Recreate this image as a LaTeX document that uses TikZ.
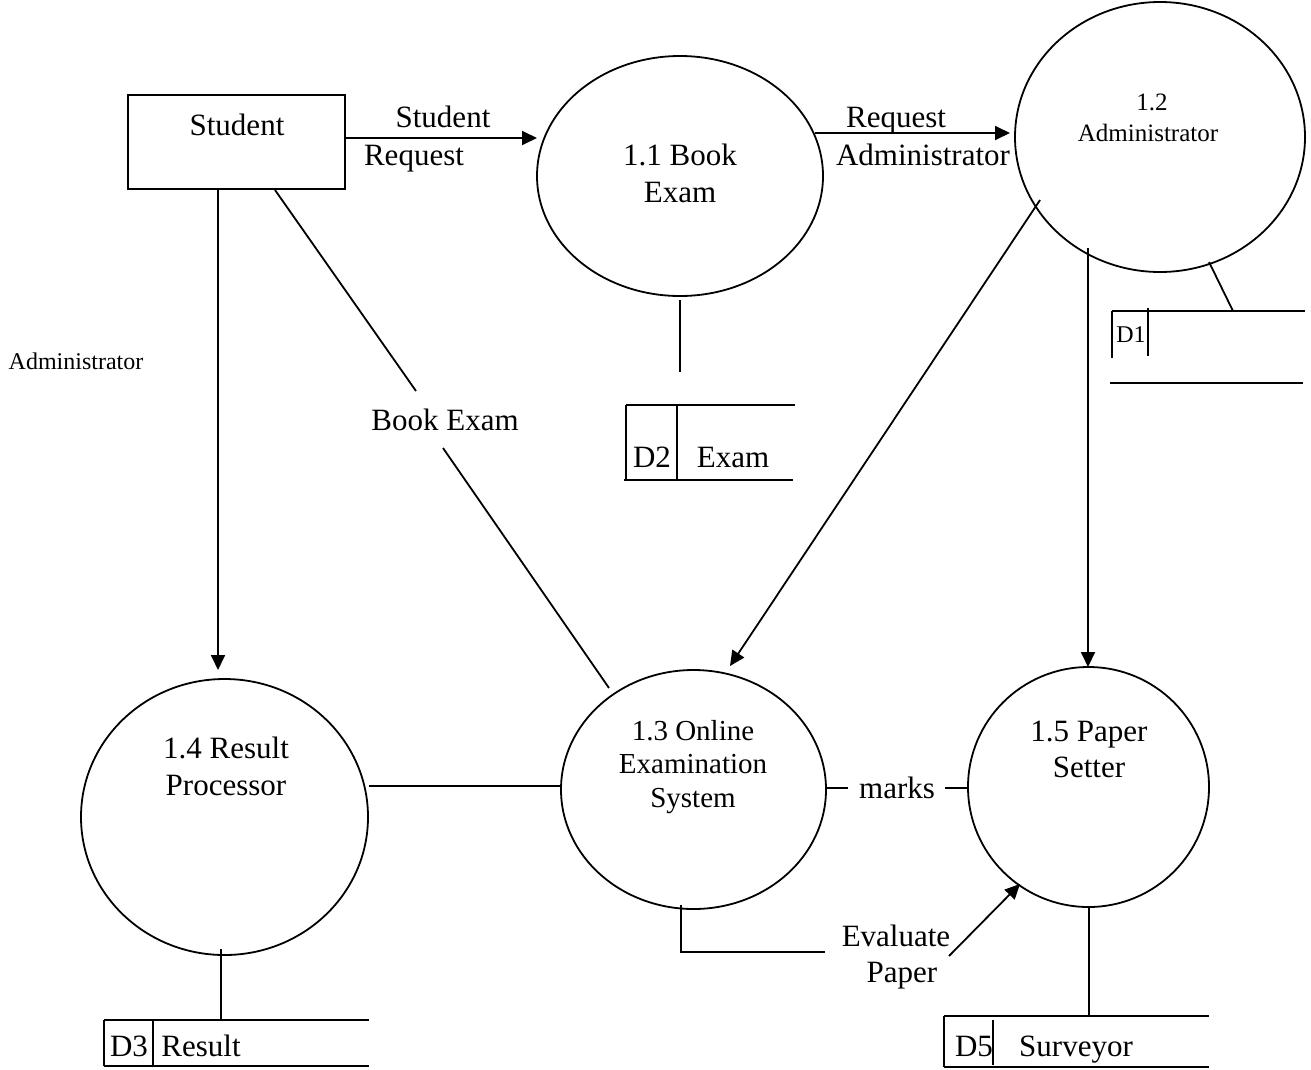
\documentclass[tikz,border=0pt]{standalone}
\usepackage{fontspec}
\setmainfont{Liberation Serif}
\usetikzlibrary{shapes.geometric,arrows.meta}
\newcommand\bigf{\fontsize{31}{37}\selectfont}
\newcommand\midf{\fontsize{29}{34}\selectfont}
\newcommand\smallf{\fontsize{25}{30}\selectfont}
\newcommand\tinyf{\fontsize{24}{29}\selectfont}
\tikzset{
  ln/.style={line width=1.8pt},
  arr/.style={ln,-{Triangle[length=15pt,width=14pt]}},
  proc/.style={ellipse,draw,line width=1.8pt,inner sep=0pt},
  ent/.style={rectangle,draw,line width=1.8pt,inner sep=0pt},
  txt/.style={inner sep=0pt,font=\bigf,text height=20pt,text depth=0pt},
  txtm/.style={inner sep=0pt,font=\midf,text height=19pt,text depth=0pt},
  txts/.style={inner sep=0pt,font=\smallf,text height=16pt,text depth=0pt},
  txtt/.style={inner sep=0pt,font=\tinyf,text height=16pt,text depth=0pt}
}
\begin{document}
\begin{tikzpicture}[x=1pt,y=-1pt]
\useasboundingbox[fill=white] (0,0) rectangle (1311,1069);
% entity
\node[ent,minimum width=217pt,minimum height=94pt] (student) at (236.5,142) {};
\node[txt] (studentT) at (237,125) {Student};
% processes
\node[proc,minimum width=286pt,minimum height=240pt] (p11) at (680,176) {};
\node[txt] (p11a) at (680,155) {1.1 Book};
\node[txt] (p11b) at (680,192) {Exam};
\node[proc,minimum width=290pt,minimum height=270pt] (p12) at (1160,137) {};
\node[txts] (p12a) at (1152,102) {1.2};
\node[txts] (p12b) at (1148,133) {Administrator};
\node[proc,minimum width=265pt,minimum height=239pt] (p13) at (693.5,789.5) {};
\node[txtm] (p13a) at (693,731) {1.3 Online};
\node[txtm] (p13b) at (693,764) {Examination};
\node[txtm] (p13c) at (693,798) {System};
\node[proc,minimum width=287pt,minimum height=276pt] (p14) at (224.5,817) {};
\node[txt] (p14a) at (226,748) {1.4 Result};
\node[txt] (p14b) at (226,785) {Processor};
\node[proc,minimum width=241pt,minimum height=240pt] (p15) at (1088.5,787) {};
\node[txt] (p15a) at (1089,731) {1.5 Paper};
\node[txt] (p15b) at (1089,767) {Setter};
% flow labels
\node[txt] (lSR1) at (443,117) {Student};
\node[txt] (lSR2) at (414,155) {Request};
\node[txt] (lRA1) at (896,117) {Request};
\node[txt] (lRA2) at (923,155) {Administrator};
\node[txtt] (lAdm) at (76,361) {Administrator};
\node[txt] (lBE) at (445,420) {Book Exam};
\node[txt] (lmarks) at (897,788) {marks};
\node[txt] (lEv1) at (896,936) {Evaluate};
\node[txt] (lEv2) at (902,972) {Paper};
% connector end points
\coordinate (c1s) at (345,138); \coordinate (c1e) at (537,138);
\coordinate (c2s) at (815,133); \coordinate (c2e) at (1010,133);
\coordinate (c3s) at (680,300); \coordinate (c3e) at (680,372);
\coordinate (c4s) at (1209,262); \coordinate (c4e) at (1233,311);
\coordinate (c5s) at (1088,248); \coordinate (c5e) at (1088,667);
\coordinate (c6s) at (1040,200); \coordinate (c6e) at (730,666);
\coordinate (c7s) at (218,189); \coordinate (c7e) at (218,670);
\coordinate (c8s) at (275,190); \coordinate (c8e) at (416,391);
\coordinate (c9s) at (443,448); \coordinate (c9e) at (609,688);
\coordinate (c10s) at (369,786); \coordinate (c10e) at (561,786);
\coordinate (c11s) at (826,788); \coordinate (c11e) at (848,788);
\coordinate (c12s) at (945,788); \coordinate (c12e) at (968,788);
\coordinate (c13s) at (681,905); \coordinate (c13m) at (681,952); \coordinate (c13e) at (825,952);
\coordinate (c14s) at (949,956); \coordinate (c14e) at (1020,884);
\coordinate (c15s) at (1089,907); \coordinate (c15e) at (1089,1016);
\coordinate (c16s) at (221,949); \coordinate (c16e) at (221,1020);
% connectors
\draw[arr] (c1s) -- (c1e);
\draw[arr] (c2s) -- (c2e);
\draw[ln] (c3s) -- (c3e);
\draw[ln] (c4s) -- (c4e);
\draw[arr] (c5s) -- (c5e);
\draw[arr] (c6s) -- (c6e);
\draw[arr] (c7s) -- (c7e);
\draw[ln] (c8s) -- (c8e);
\draw[ln] (c9s) -- (c9e);
\draw[ln] (c10s) -- (c10e);
\draw[ln] (c11s) -- (c11e);
\draw[ln] (c12s) -- (c12e);
\draw[ln] (c13s) -- (c13m) -- (c13e);
\draw[arr] (c14s) -- (c14e);
\draw[ln] (c15s) -- (c15e);
\draw[ln] (c16s) -- (c16e);
% data stores
\draw[ln] (1112,311) -- (1305,311);
\draw[ln] (1112,311) -- (1112,358);
\draw[ln] (1148,308) -- (1148,356);
\draw[ln] (1110,383) -- (1303,383);
\node[txtt] (d1) at (1131,334) {D1};
\draw[ln] (626,405) -- (795,405);
\draw[ln] (626,405) -- (626,480);
\draw[ln] (677,405) -- (677,480);
\draw[ln] (624,480) -- (793,480);
\node[txt] (d2) at (652,457) {D2};
\node[txt] (d2t) at (733,457) {Exam};
\draw[ln] (104,1020) -- (369,1020);
\draw[ln] (104,1020) -- (104,1066);
\draw[ln] (153,1020) -- (153,1066);
\draw[ln] (104,1066) -- (369,1066);
\node[txt] (d3) at (129,1046) {D3};
\node[txt] (d3t) at (201,1046) {Result};
\draw[ln] (944,1016) -- (1209,1016);
\draw[ln] (944,1016) -- (944,1067);
\draw[ln] (993,1020) -- (993,1065);
\draw[ln] (944,1067) -- (1209,1067);
\node[txt] (d5) at (974,1046) {D5};
\node[txt] (d5t) at (1076,1046) {Surveyor};
\end{tikzpicture}
\end{document}
